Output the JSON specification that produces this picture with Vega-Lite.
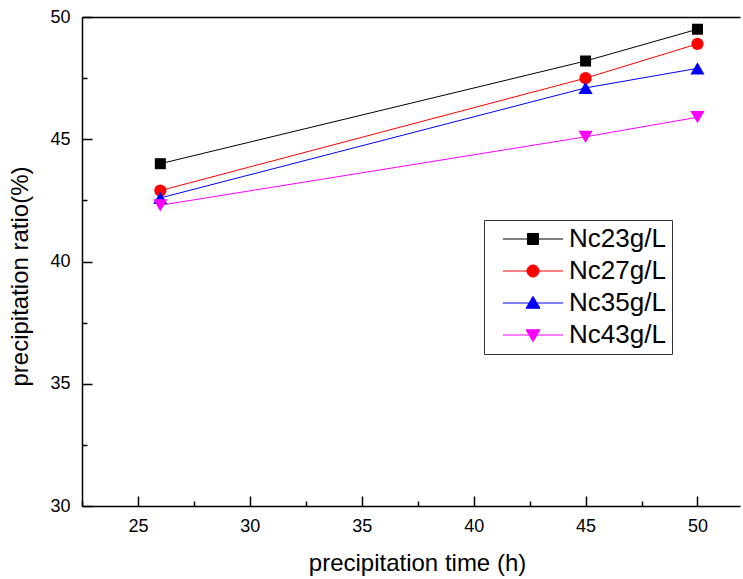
{
  "$schema": "https://vega.github.io/schema/vega-lite/v6.json",
  "width": 658,
  "height": 489,
  "autosize": {"type": "none"},
  "padding": {"left": 82, "top": 17, "right": 3, "bottom": 73},
  "background": "white",
  "config": {
    "view": {"stroke": null},
    "font": "Liberation Sans",
    "axis": {
      "grid": false,
      "domainColor": "#000000",
      "domainWidth": 1.5,
      "tickColor": "#000000",
      "tickWidth": 1.5,
      "labelFont": "Liberation Sans",
      "labelFontSize": 18,
      "labelColor": "#000000",
      "titleFont": "Liberation Sans",
      "titleFontSize": 24,
      "titleFontWeight": "normal",
      "titleColor": "#000000"
    }
  },
  "data": {
    "values": [
      {"series": "Nc23g/L", "time": 26, "ratio": 44.0},
      {"series": "Nc23g/L", "time": 45, "ratio": 48.2},
      {"series": "Nc23g/L", "time": 50, "ratio": 49.5},
      {"series": "Nc27g/L", "time": 26, "ratio": 42.9},
      {"series": "Nc27g/L", "time": 45, "ratio": 47.5},
      {"series": "Nc27g/L", "time": 50, "ratio": 48.9},
      {"series": "Nc35g/L", "time": 26, "ratio": 42.6},
      {"series": "Nc35g/L", "time": 45, "ratio": 47.1},
      {"series": "Nc35g/L", "time": 50, "ratio": 47.9},
      {"series": "Nc43g/L", "time": 26, "ratio": 42.3},
      {"series": "Nc43g/L", "time": 45, "ratio": 45.1},
      {"series": "Nc43g/L", "time": 50, "ratio": 45.9}
    ]
  },
  "encoding": {
    "x": {
      "field": "time", "type": "quantitative",
      "scale": {"domain": [22.5, 51.9], "nice": false, "zero": false}
    },
    "y": {
      "field": "ratio", "type": "quantitative",
      "scale": {"domain": [30, 50], "nice": false, "zero": false}
    },
    "color": {
      "field": "series",
      "type": "nominal",
      "scale": {
        "domain": ["Nc23g/L", "Nc27g/L", "Nc35g/L", "Nc43g/L"],
        "range": ["#000000", "#FF0000", "#0000FF", "#FF00FF"]
      },
      "legend": {
        "orient": "none",
        "legendX": 402,
        "legendY": 203,
        "title": null,
        "padding": 6,
        "fillColor": "white",
        "strokeColor": "#333333",
        "labelFont": "Liberation Sans",
        "labelFontSize": 26,
        "labelColor": "#000000",
        "symbolSize": 196,
        "symbolOffset": 30,
        "labelOffset": 23,
        "rowPadding": 6,
        "symbolStrokeWidth": 1,
        "encode": {
          "symbols": {
            "update": {
              "shape": {"signal": "datum.value === 'Nc23g/L' ? 'M-4.3,0H4.3M-0.79,-0.79H0.79V0.79H-0.79Z' : datum.value === 'Nc27g/L' ? 'M-4.3,0H4.3M-0.86,0A0.86,0.86 0 1,0 0.86,0A0.86,0.86 0 1,0 -0.86,0Z' : datum.value === 'Nc35g/L' ? 'M-4.3,0H4.3M0,-0.95L1,0.75H-1Z' : 'M-4.3,0H4.3M0,0.95L1,-0.75H-1Z'"},
              "fill": {"scale": "color", "field": "value"},
              "stroke": {"scale": "color", "field": "value"},
              "strokeWidth": {"value": 1},
              "opacity": {"value": 1},
              "fillOpacity": {"value": 1},
              "strokeOpacity": {"value": 1}
            }
          }
        }
      }
    }
  },
  "layer": [
    {
      "mark": {"type": "line", "strokeWidth": 1},
      "encoding": {
        "x": {
          "field": "time", "type": "quantitative",
          "axis": {"orient": "bottom", "values": [25, 30, 35, 40, 45, 50], "ticks": false, "labelPadding": 11, "title": "precipitation time (h)", "titleX": 335, "titleY": 57, "titleBaseline": "middle", "titleAlign": "center"}
        },
        "y": {
          "field": "ratio", "type": "quantitative",
          "axis": {"orient": "left", "values": [30, 35, 40, 45, 50], "ticks": false, "labelPadding": 12, "title": "precipitation ratio(%)", "titleX": -62, "titleY": 259, "titleAngle": -90, "titleBaseline": "middle", "titleAlign": "center"}
        }
      }
    },
    {
      "transform": [{"filter": "datum.series === 'Nc23g/L'"}],
      "mark": {"type": "point", "filled": true, "opacity": 1, "shape": "square", "size": 121},
      "encoding": {
        "x": {
          "field": "time", "type": "quantitative",
          "axis": {"orient": "bottom", "values": [25, 30, 35, 40, 45, 50], "tickSize": -10, "labels": false, "domain": false, "title": null}
        },
        "y": {
          "field": "ratio", "type": "quantitative",
          "axis": {"orient": "left", "values": [30, 35, 40, 45, 50], "tickSize": -10, "labels": false, "domain": false, "title": null}
        }
      }
    },
    {
      "transform": [{"filter": "datum.series === 'Nc27g/L'"}],
      "mark": {"type": "point", "filled": true, "opacity": 1, "shape": "circle", "size": 150},
      "encoding": {
        "x": {
          "field": "time", "type": "quantitative",
          "axis": {"orient": "bottom", "values": [22.5, 27.5, 32.5, 37.5, 42.5, 47.5], "tickSize": -5, "labels": false, "domain": false, "title": null}
        },
        "y": {
          "field": "ratio", "type": "quantitative",
          "axis": {"orient": "left", "values": [32.5, 37.5, 42.5, 47.5], "tickSize": -5, "labels": false, "domain": false, "title": null}
        }
      }
    },
    {
      "transform": [{"filter": "datum.series === 'Nc35g/L'"}],
      "mark": {"type": "point", "filled": true, "opacity": 1, "shape": "triangle-up", "size": 200},
      "encoding": {
        "x": {
          "field": "time", "type": "quantitative",
          "axis": {"orient": "top", "ticks": false, "labels": false, "domain": true, "title": null}
        },
        "y": {
          "field": "ratio", "type": "quantitative",
          "axis": null
        }
      }
    },
    {
      "transform": [{"filter": "datum.series === 'Nc43g/L'"}],
      "mark": {"type": "point", "filled": true, "opacity": 1, "shape": "triangle-down", "size": 200},
      "encoding": {
        "x": {
          "field": "time", "type": "quantitative",
          "axis": null
        },
        "y": {
          "field": "ratio", "type": "quantitative",
          "axis": null
        }
      }
    }
  ],
  "resolve": {"axis": {"x": "independent", "y": "independent"}}
}
